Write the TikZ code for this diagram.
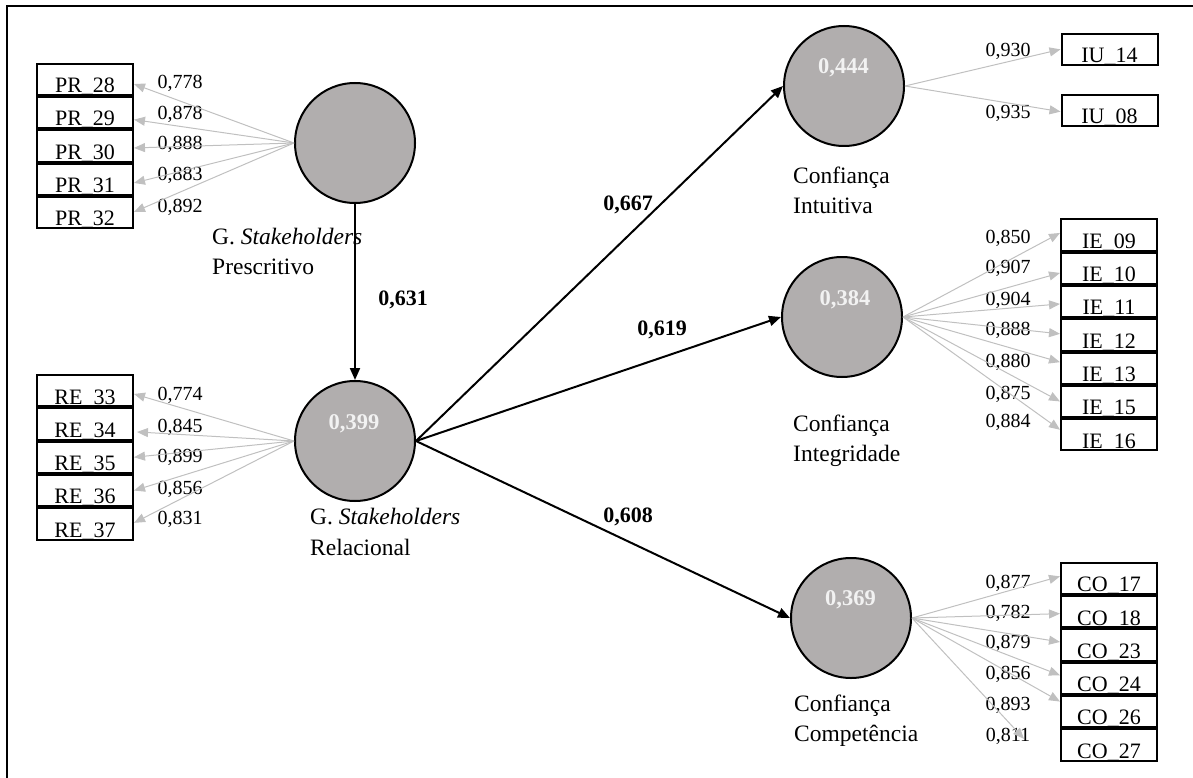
\documentclass[tikz,border=0pt]{standalone}
\usepackage{fontspec}
\setmainfont{Liberation Serif}
\usetikzlibrary{arrows.meta}
\definecolor{lvfill}{RGB}{177,174,174}
\definecolor{loadgray}{RGB}{192,192,192}
\definecolor{rtext}{RGB}{242,242,242}
\begin{document}
\begin{tikzpicture}[x=1pt,y=-1pt,
  latent/.style={circle, draw, line width=2pt, fill=lvfill, minimum size=120pt, inner sep=0pt},
  item/.style={draw, line width=2pt, inner sep=0pt, minimum width=96pt,
    text height=29pt, text depth=2.3pt, anchor=north, font=\fontsize{22}{22}\selectfont},
  load/.style={draw=loadgray, line width=1pt, -{Triangle[length=11pt,width=9pt]}},
  pathc/.style={line width=2pt, -{Triangle[length=12pt,width=10pt]}},
  num/.style={anchor=base, font=\fontsize{20}{20}\selectfont, inner sep=0pt},
  coef/.style={font=\bfseries\fontsize{22}{22}\selectfont, inner sep=0pt},
  rsq/.style={font=\bfseries\fontsize{22.5}{22.5}\selectfont, text=rtext, inner sep=0pt},
  lvname/.style={anchor=base west, font=\fontsize{23.5}{23.5}\selectfont, inner sep=0pt}]

\useasboundingbox (0,0) rectangle (1193,778);
% outer frame (top and left edges)
\draw[line width=2.2pt] (7,778) -- (7,6) -- (1193,6);

% latent variables
\node[latent] (pr) at (355,143) {};
\node[latent] (re) at (355,441) {};
\node[latent] (iu) at (844,86) {};
\node[latent] (ie) at (842,317) {};
\node[latent] (co) at (851,618) {};

\node[rsq] (rre) at (354,423.5) {0,399};
\node[rsq] (riu) at (843.5,67.5) {0,444};
\node[rsq] (rie) at (845,299.5) {0,384};
\node[rsq] (rco) at (850.5,600) {0,369};

% captions
\node[lvname] (prc1) at (212,244) {G. \textit{Stakeholders}};
\node[lvname] (prc2) at (212,274) {Prescritivo};
\node[lvname] (rec1) at (310,524) {G. \textit{Stakeholders}};
\node[lvname] (rec2) at (310,555) {Relacional};
\node[lvname] (iuc1) at (793,183) {Confiança};
\node[lvname] (iuc2) at (793,213) {Intuitiva};
\node[lvname] (iec1) at (793,431.7) {Confiança};
\node[lvname] (iec2) at (793,461.7) {Integridade};
\node[lvname] (coc1) at (794,711.7) {Confiança};
\node[lvname] (coc2) at (794,741.7) {Competência};

% indicator blocks
\node[item] (pr28) at (85,62.7) {PR\_28};
\node[item] (pr29) at (pr28.south) {PR\_29};
\node[item] (pr30) at (pr29.south) {PR\_30};
\node[item] (pr31) at (pr30.south) {PR\_31};
\node[item] (pr32) at (pr31.south) {PR\_32};

\node[item] (re33) at (85,374) {RE\_33};
\node[item] (re34) at (re33.south) {RE\_34};
\node[item] (re35) at (re34.south) {RE\_35};
\node[item] (re36) at (re35.south) {RE\_36};
\node[item] (re37) at (re36.south) {RE\_37};

\node[item] (iu14) at (1109.5,32.7) {IU\_14};
\node[item] (iu08) at (1109.5,94) {IU\_08};

\node[item] (ie09) at (1109,218.3) {IE\_09};
\node[item] (ie10) at (ie09.south) {IE\_10};
\node[item] (ie11) at (ie10.south) {IE\_11};
\node[item] (ie12) at (ie11.south) {IE\_12};
\node[item] (ie13) at (ie12.south) {IE\_13};
\node[item] (ie15) at (ie13.south) {IE\_15};
\node[item] (ie16) at (ie15.south) {IE\_16};

\node[item] (co17) at (1109,561.7) {CO\_17};
\node[item] (co18) at (co17.south) {CO\_18};
\node[item] (co23) at (co18.south) {CO\_23};
\node[item] (co24) at (co23.south) {CO\_24};
\node[item] (co26) at (co24.south) {CO\_26};
\node[item] (co27) at (co26.south) {CO\_27};

% loadings
\node[num] (lpr28) at (180,88.3) {0,778};
\node[num] (lpr29) at (180,119.5) {0,878};
\node[num] (lpr30) at (180,150) {0,888};
\node[num] (lpr31) at (180,181) {0,883};
\node[num] (lpr32) at (180,212) {0,892};

\node[num] (lre33) at (180,400) {0,774};
\node[num] (lre34) at (180,432) {0,845};
\node[num] (lre35) at (180,462) {0,899};
\node[num] (lre36) at (180,494) {0,856};
\node[num] (lre37) at (180,524) {0,831};

\node[num] (liu14) at (1008,57) {0,930};
\node[num] (liu08) at (1008,119) {0,935};

\node[num] (lie09) at (1008,243.7) {0,850};
\node[num] (lie10) at (1008,273.7) {0,907};
\node[num] (lie11) at (1008,305) {0,904};
\node[num] (lie12) at (1008,335) {0,888};
\node[num] (lie13) at (1008,367) {0,880};
\node[num] (lie15) at (1008,399) {0,875};
\node[num] (lie16) at (1008,427) {0,884};

\node[num] (lco17) at (1008,588.7) {0,877};
\node[num] (lco18) at (1008,618.7) {0,782};
\node[num] (lco23) at (1008,648.7) {0,879};
\node[num] (lco24) at (1008,679.7) {0,856};
\node[num] (lco26) at (1008,710.3) {0,893};
\node[num] (lco27) at (1008,741.3) {0,811};

% loading arrows
\draw[load] (pr.west) -- ([yshift=-4.7pt]pr28.east);
\draw[load] (pr.west) -- ([yshift=-7pt]pr29.east);
\draw[load] (pr.west) -- ([yshift=-2pt]pr30.east);
\draw[load] (pr.west) -- ([yshift=-3.7pt]pr31.east);
\draw[load] (pr.west) -- ([yshift=0.6pt]pr32.east);

\draw[load] (re.west) -- ([yshift=-3.3pt]re33.east);
\draw[load] (re.west) -- ([xshift=3pt,yshift=-8pt]re34.east);
\draw[load] (re.west) -- (re35.east);
\draw[load] (re.west) -- (re36.east);
\draw[load] (re.west) -- ([yshift=1pt]re37.east);

\draw[load] (iu.east) -- (iu14.west);
\draw[load] (iu.east) -- ([yshift=-1pt]iu08.west);

\draw[load] (ie.east) -- ([yshift=2pt]ie09.west);
\draw[load] (ie.east) -- ([yshift=-4.7pt]ie10.west);
\draw[load] (ie.east) -- ([yshift=-2.4pt]ie11.west);
\draw[load] (ie.east) -- ([yshift=1pt]ie12.west);
\draw[load] (ie.east) -- ([yshift=6pt]ie13.west);
\draw[load] (ie.east) -- (ie15.west);
\draw[load] (ie.east) -- ([yshift=5pt]ie16.west);

\draw[load] (co.east) -- ([yshift=2pt]co17.west);
\draw[load] (co.east) -- ([yshift=-2pt]co18.west);
\draw[load] (co.east) -- ([yshift=3pt]co23.west);
\draw[load] (co.east) -- ([yshift=3pt]co24.west);
\draw[load] (co.east) -- ([yshift=10pt]co26.west);
\draw[load] (co.east) -- ([xshift=-36pt,yshift=6pt]co27.west);

% structural paths
\draw[pathc] (pr.south) -- (re.north);
\draw[pathc] (re.east) -- (iu.west);
\draw[pathc] (re.east) -- (ie.west);
\draw[pathc] (re.east) -- (co.west);

\node[coef] (cpr) at (403,300) {0,631};
\node[coef] (ciu) at (628,205) {0,667};
\node[coef] (cie) at (662,330) {0,619};
\node[coef] (cco) at (628,517) {0,608};
\end{tikzpicture}
\end{document}
